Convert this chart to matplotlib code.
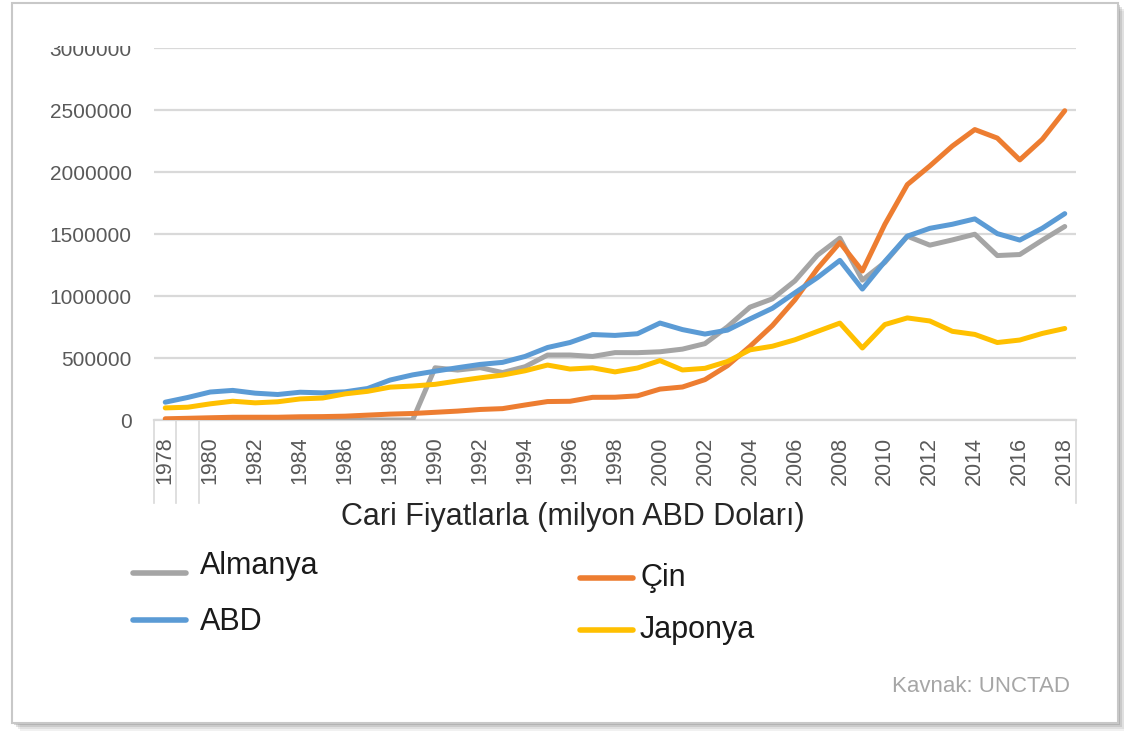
import numpy as np
import matplotlib.pyplot as plt
from matplotlib.patches import Rectangle
from matplotlib.lines import Line2D
import matplotlib.transforms as mtransforms

# merchandise exports, current prices (million USD)
years = list(range(1978, 2019))
almanya = [0, 0, 0, 0, 0, 0, 0, 0, 0, 0, 0, 0,
           421100, 402800, 422300, 382500, 429700, 523800, 524200, 512400,
           543400, 542900, 550200, 571600, 615800, 751600, 909900, 977100,
           1121900, 1328800, 1466100, 1127800, 1271100, 1482200, 1410100,
           1452200, 1498200, 1326200, 1334400, 1450200, 1560500]
cin = [9750, 13700, 18100, 22000, 22300, 22200, 26100, 27400, 30900, 39400,
       47500, 52500, 62100, 71800, 84900, 91700, 121000, 148800, 151000,
       182800, 183700, 194900, 249200, 266100, 325600, 438200, 593300,
       762000, 968900, 1220500, 1430700, 1201600, 1577800, 1898400, 2048700,
       2209000, 2342300, 2273500, 2097600, 2263300, 2494200]
abd = [143700, 181800, 225600, 238700, 216400, 205600, 224000, 218800,
       227200, 254100, 322400, 363800, 393600, 421700, 448200, 464800,
       512600, 584700, 625100, 689200, 682100, 695800, 781900, 729100,
       693100, 724800, 814900, 901100, 1025900, 1148200, 1287400, 1056000,
       1278500, 1482500, 1545800, 1578500, 1621900, 1503100, 1451000,
       1546300, 1664100]
japonya = [97500, 103000, 130400, 151500, 138400, 146900, 170100, 177200,
           210800, 231300, 264900, 273900, 287600, 314800, 339900, 362200,
           397000, 443100, 410900, 421000, 388000, 419400, 479200, 403500,
           416700, 471800, 565700, 594900, 646700, 714300, 781400, 580700,
           769800, 823200, 798600, 715100, 690200, 624800, 644900, 698100,
           738100]

series = [("Almanya", almanya, "#A5A5A5"),
          ("Çin", cin, "#ED7D31"),
          ("ABD", abd, "#5B9BD5"),
          ("Japonya", japonya, "#FFC000")]

W, H = 1124, 736
plt.rcParams['font.family'] = ['Liberation Sans', 'DejaVu Sans']
fig = plt.figure(figsize=(W / 100, H / 100), dpi=100)
fig.patch.set_facecolor("white")

def fx(px):
    return px / W

def fy(py):
    return 1 - py / H

# frame with soft shadow
for i, a in enumerate([0.10, 0.15, 0.22, 0.30]):
    off = 8 - 2 * i
    fig.add_artist(Rectangle((fx(12 + off), fy(723 + off)), fx(1106), 720 / H,
                             facecolor="#7f7f7f", edgecolor="none", alpha=a,
                             transform=fig.transFigure, zorder=-3))
fig.add_artist(Rectangle((fx(12), fy(723)), fx(1106), 720 / H,
                         facecolor="white", edgecolor="#C8C8C8", lw=1.5,
                         transform=fig.transFigure, zorder=-2))

ax = fig.add_axes([fx(154), fy(420), fx(1076 - 154), (420 - 48) / H])
ax.set_facecolor("none")

lines = {}
for name, vals, col in series:
    ln, = ax.plot(years, vals, color=col, lw=3.6, solid_capstyle="round",
                  solid_joinstyle="round", zorder=3)
    lines[name] = ln

ax.set_xlim(1977.5, 2018.5)
ax.set_ylim(0, 3000000)
ax.set_yticks(np.arange(0, 3000001, 500000))
ax.set_yticklabels([f"{v:d}" for v in range(0, 3000001, 500000)])
ax.set_xticks(years[::2])
ax.set_xticklabels([str(y) for y in years[::2]], rotation=90)
ax.tick_params(axis="y", length=0, pad=16, labelsize=15, labelcolor="#595959")
ax.tick_params(axis="x", length=0, pad=12, labelsize=15.5, labelcolor="#595959")
ax.grid(axis="y", color="#D9D9D9", lw=1.6)
ax.set_axisbelow(True)
for s in ["top", "right", "left"]:
    ax.spines[s].set_visible(False)
ax.spines["bottom"].set_color("#D9D9D9")
ax.spines["bottom"].set_linewidth(1.6)

# category box lines under the axis
trans = mtransforms.blended_transform_factory(ax.transData, ax.transAxes)
for xb in [1977.5, 1978.5, 1979.5, 2018.5]:
    ax.plot([xb, xb], [0, -(503 - 420) / 372], color="#D9D9D9", lw=1.2,
            transform=trans, clip_on=False)

# top label is cut off in the original
fig.add_artist(Rectangle((fx(40), fy(46)), fx(110), 36 / H, facecolor="white",
                         edgecolor="none", transform=fig.transFigure, zorder=10))

fig.text(fx(573), fy(517), "Cari Fiyatlarla (milyon ABD Doları)", fontsize=22,
         color="#262626", ha="center", va="center")

# legend
leg_items = [("Almanya", 133, 573, 200, 566),
             ("ABD", 133, 620, 200, 622),
             ("Çin", 580, 578, 641, 578),
             ("Japonya", 580, 630, 640, 630)]
for name, lx, ly, tx, ty in leg_items:
    fig.add_artist(Line2D([fx(lx), fx(lx + 53)], [fy(ly), fy(ly)],
                          color=lines[name].get_color(), lw=4,
                          solid_capstyle="round", transform=fig.transFigure))
    fig.text(fx(tx), fy(ty), name, fontsize=22, color="#1a1a1a",
             ha="left", va="center")

fig.text(fx(1070), fy(687), "Kavnak: UNCTAD", fontsize=16, color="#A6A6A6",
         ha="right", va="center")

fig.savefig("out.png", dpi=100)
